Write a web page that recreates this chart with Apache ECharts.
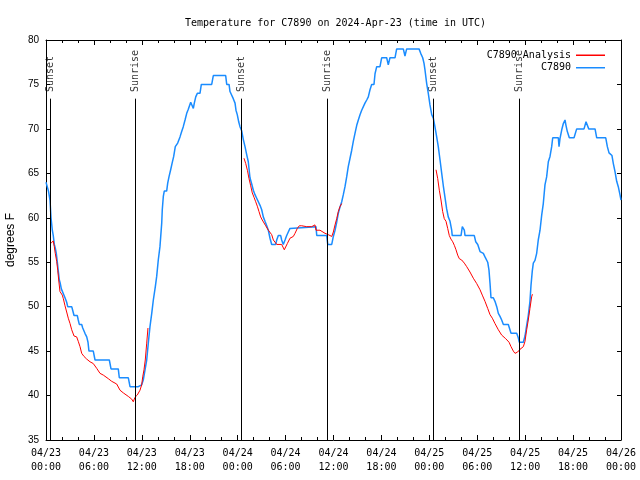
<!DOCTYPE html>
<html><head><meta charset="utf-8">
<script src="https://cdn.jsdelivr.net/npm/echarts/dist/echarts.min.js"></script>
<style>html,body{margin:0;padding:0;background:#fff}#c{width:640px;height:480px}</style>
</head><body><div id="c"></div>
<script>
const titleText = 'Temperature for C7890 on 2024-Apr-23 (time in UTC)';
const yAxisName = 'degrees F';
const xTickLabels = ['04/23\n00:00','04/23\n06:00','04/23\n12:00','04/23\n18:00',
  '04/24\n00:00','04/24\n06:00','04/24\n12:00','04/24\n18:00',
  '04/25\n00:00','04/25\n06:00','04/25\n12:00','04/25\n18:00','04/26\n00:00'];
// hours since 04/23 00:00 UTC
const sunEventHours = [0.5, 11.14, 24.42, 35.19, 48.46, 59.23];
const sunEventNames = ['Sunset','Sunrise','Sunset','Sunrise','Sunset','Sunrise'];
const eventLineTop = 73.4;
const eventLabelY = 74.15;

// C7890 observations [hour, degF]
const obsSeries = [
[0.0,64],[0.25,64],[0.31,63],[0.44,63],[0.5,62],[0.63,60],[0.79,58.6],[0.91,58],[1.04,57],[1.16,56.6],
[1.29,56],[1.42,55],[1.54,54],[1.67,53],[1.79,52.6],[1.92,52],[2.17,52],[2.38,51],[2.59,50.5],[2.72,50],
[3.22,50],[3.34,49.6],[3.51,49],[3.92,49],[4.04,48.5],[4.17,48],[4.47,48],[4.6,47.6],[4.88,47],[5.1,46.6],
[5.26,46],[5.38,45],[5.92,45],[6.14,44],[7.93,44],[8.14,43],[9.05,43],[9.18,42],[10.31,42],[10.52,41],
[11.56,41],[11.98,41.2],[12.18,41.75],[12.4,42.9],[12.61,44],[12.81,45.9],[13.02,47.75],[13.24,49.25],[13.44,50.75],[13.69,52.25],
[13.86,53.4],[14.06,55.25],[14.27,56.75],[14.49,59.4],[14.56,60.9],[14.69,62.4],[14.81,63],[15.11,63],[15.24,63.9],[15.4,64.6],
[15.61,65.4],[15.78,66.1],[15.99,66.9],[16.19,68],[16.49,68.4],[16.78,69.1],[16.99,69.7],[17.19,70.25],[17.41,71],[17.62,71.75],
[17.82,72.2],[18.12,73],[18.28,73],[18.45,72.3],[18.57,72.9],[18.75,73.6],[18.95,74],[19.28,74],[19.45,75],[20.75,75],
[20.95,76],[22.5,76],[22.63,75],[22.92,75],[23.04,74.2],[23.25,74],[23.45,73.4],[23.67,72.9],[23.79,72.1],[23.95,71.6],
[24.13,70.8],[24.29,70.25],[24.5,69.8],[24.71,68.8],[24.92,68],[25.13,67.1],[25.33,66.3],[25.54,64.5],[25.76,63.8],[25.96,63.1],
[26.17,62.6],[26.38,62.2],[26.58,62],[26.8,61.4],[27.01,60.9],[27.21,60.1],[27.42,59.6],[27.64,59.1],[27.84,58.6],[28.05,57.7],
[28.26,57],[28.76,57],[28.89,57.5],[29.09,58],[29.39,58],[29.51,57.5],[29.71,57],[29.93,57.5],[30.14,58],[30.34,58.4],
[30.55,58.8],[30.77,59],[33.81,59],[33.9,58],[35.15,58],[35.28,57],[35.78,57],[35.98,57.9],[36.19,58.6],[36.4,59.5],
[36.6,60.5],[36.81,61.2],[37.03,61.8],[37.23,62.6],[37.44,63.5],[37.65,64.6],[37.85,65.75],[38.07,66.7],[38.28,67.6],[38.48,68.6],
[38.69,69.5],[38.91,70.4],[39.11,71],[39.32,71.6],[39.53,72.1],[39.73,72.3],[39.94,72.9],[40.16,73.25],[40.36,73.6],[40.57,74.4],
[40.78,75],[41.07,75],[41.2,76.2],[41.41,77],[41.82,77],[42.03,78],[42.66,78],[42.86,77.2],[43.07,78],[43.7,78],
[43.91,79],[44.74,79],[44.95,78.2],[45.16,79],[46.71,79],[46.92,78.5],[47.17,78],[47.33,77.4],[47.46,76.6],[47.67,75.1],
[47.87,74],[48.08,72.7],[48.3,71.6],[48.5,71.2],[48.71,70.2],[48.92,69.1],[49.12,68],[49.34,66.5],[49.55,65],[49.75,63.6],
[49.96,62.3],[50.17,61],[50.37,60.1],[50.59,59.6],[50.8,58.6],[50.87,58],[51.97,58],[52.13,59],[52.38,58.6],[52.47,58],
[53.63,58],[53.81,57.3],[54.06,57],[54.35,56.2],[54.76,56],[54.97,55.6],[55.31,55],[55.47,54.1],[55.6,52.6],[55.72,51],
[56.01,51],[56.22,50.6],[56.44,50],[56.64,49.25],[56.85,48.9],[57.06,48.5],[57.27,48],[57.89,48],[58.23,47],[58.94,47],
[59.14,46.5],[59.27,46],[59.77,46],[59.98,46.7],[60.19,47.9],[60.39,49],[60.6,50.6],[60.73,52.4],[60.89,54],[61.02,54.9],
[61.23,55.2],[61.44,56],[61.64,57.5],[61.86,58.6],[62.07,60.3],[62.27,61.6],[62.48,63.7],[62.69,64.6],[62.9,66.3],[63.11,66.9],
[63.32,68],[63.45,69],[64.15,69],[64.24,68],[64.36,68.9],[64.58,69.9],[64.78,70.6],[64.99,71],[65.11,70.4],[65.28,69.7],
[65.53,69],[66.12,69],[66.45,70],[67.37,70],[67.62,70.8],[67.78,71],[67.96,70],[68.75,70],[68.96,69],[70.09,69],
[70.29,68],[70.5,67.3],[70.87,67],[71.04,66.1],[71.25,65.2],[71.46,64.1],[71.66,63.5],[71.87,62.6],[72,62]
];

// C7890 Analysis, three night-time segments [hour, degF]
const analysisNight1 = [
[0.59,57.1],[0.91,57.4],[1.04,56.75],[1.16,56],[1.34,55.1],[1.47,54.1],[1.59,53],[1.75,51.7],[2.04,51.3],[2.17,50.9],
[2.38,50.1],[2.59,49.4],[2.79,48.7],[3.01,48.1],[3.22,47.4],[3.51,46.7],[3.84,46.6],[4.04,46.1],[4.26,45.5],[4.47,44.75],
[4.76,44.4],[5.1,44.1],[5.51,43.8],[5.92,43.6],[6.35,43.06],[6.76,42.5],[7.18,42.3],[7.8,41.9],[8.23,41.6],[8.85,41.3],
[9.27,40.6],[9.68,40.3],[10.31,39.9],[10.73,39.6],[10.93,39.3],[11.14,39.8],[11.43,40.06],[11.77,40.6],[11.98,41.2],[12.11,42.1],
[12.27,42.9],[12.43,44],[12.61,45.9],[12.77,47.6]
];
const analysisNight2 = [
[24.79,66.7],[25.01,66.1],[25.23,65.3],[25.42,64.4],[25.63,63.6],[25.83,62.8],[26.05,62.3],[26.26,61.8],[26.46,61.3],[26.67,60.7],
[26.88,60.1],[27.08,59.75],[27.3,59.6],[27.51,59.1],[27.84,58.6],[28.26,58.1],[28.47,57.5],[28.89,57],[29.51,57],[29.84,56.4],
[30.22,57.1],[30.55,57.7],[30.97,57.9],[31.18,58.25],[31.47,58.8],[31.72,59.1],[32.02,59.1],[32.64,59],[32.85,58.8],[33.27,59],
[33.68,59.2],[33.81,58.6],[34.31,58.6],[34.94,58.25],[35.35,58.1],[35.78,57.9],[35.98,58.4],[36.19,59.2],[36.4,59.9],[36.6,60.7],
[36.81,61.25],[37.03,61.6]
];
const analysisNight3 = [
[48.84,65.4],[49.05,64.4],[49.25,63.1],[49.46,62],[49.67,60.7],[49.87,59.9],[50.09,59.6],[50.3,58.8],[50.5,58],[50.71,57.6],
[50.93,57.3],[51.13,56.9],[51.34,56.4],[51.55,55.8],[51.75,55.4],[52.05,55.25],[52.38,54.9],[52.68,54.5],[53.09,53.9],[53.51,53.2],
[53.93,52.6],[54.35,51.9],[54.63,51.3],[54.97,50.6],[55.31,49.8],[55.6,49.1],[55.89,48.7],[56.22,48.1],[56.64,47.4],[57.06,46.8],
[57.56,46.4],[57.98,46],[58.23,45.5],[58.52,45],[58.73,44.75],[59.06,44.9],[59.35,45.2],[59.77,45.5],[59.98,46.1],[60.19,47.4],
[60.39,48.5],[60.6,49.8],[60.81,51.1],[60.91,51.4]
];

const MONO = 'DejaVu Sans Mono';
const SANS = 'Liberation Sans';
const BLUE = '#1a8cff';
const RED = '#ff0000';

const chart = echarts.init(document.getElementById('c'), null, {renderer: 'canvas'});

const analysisBase = {
  type: 'line', name: 'C7890 Analysis', showSymbol: false, symbol: 'none',
  lineStyle: {color: RED, width: 1}, itemStyle: {color: RED}, z: 3, animation: false
};

const option = {
  animation: false,
  backgroundColor: '#fff',
  title: {
    text: titleText, left: 180, top: 13,
    textStyle: {fontFamily: MONO, fontSize: 10, fontWeight: 'normal', color: '#000'}
  },
  legend: {
    data: [{name: 'C7890 Analysis', icon: 'rect'}, {name: 'C7890', icon: 'rect'}],
    orient: 'vertical', right: 30, top: 44, align: 'right',
    itemWidth: 29, itemHeight: 1.5, itemGap: 0,
    textStyle: {fontFamily: MONO, fontSize: 10, color: '#000', lineHeight: 12.5},
    selectedMode: false
  },
  grid: {left: 46, right: 19, top: 40, bottom: 40, containLabel: false, outerBoundsMode: 'none'},
  xAxis: [{
    type: 'value', min: 0, max: 72, interval: 6, position: 'bottom',
    axisLine: {show: true, onZero: false, lineStyle: {color: '#000', width: 1}},
    axisTick: {show: true, inside: true, length: 5, lineStyle: {color: '#000'}},
    minorTick: {show: true, splitNumber: 3, length: 3, lineStyle: {color: '#000'}},
    splitLine: {show: false}, minorSplitLine: {show: false},
    axisLabel: {
      show: true, margin: 6, fontFamily: MONO, fontSize: 10, color: '#000', lineHeight: 14,
      showMinLabel: true, showMaxLabel: true, hideOverlap: false,
      formatter: function (v) { return xTickLabels[Math.round(v / 6)] || ''; }
    }
  }, {
    type: 'value', min: 0, max: 72, interval: 6, position: 'top',
    axisLine: {show: true, onZero: false, lineStyle: {color: '#000', width: 1}},
    axisTick: {show: true, inside: true, length: 5, lineStyle: {color: '#000'}},
    minorTick: {show: true, splitNumber: 3, length: 3, lineStyle: {color: '#000'}},
    splitLine: {show: false}, minorSplitLine: {show: false},
    axisLabel: {show: false}
  }],
  yAxis: [{
    type: 'value', min: 35, max: 80, interval: 5, position: 'left',
    name: yAxisName, nameLocation: 'middle', nameGap: 28, nameRotate: 90,
    nameTextStyle: {fontFamily: SANS, fontSize: 12, color: '#000'},
    axisLine: {show: true, onZero: false, lineStyle: {color: '#000', width: 1}},
    axisTick: {show: true, inside: true, length: 4, lineStyle: {color: '#000'}},
    splitLine: {show: false},
    axisLabel: {show: true, margin: 7, fontFamily: SANS, fontSize: 10, color: '#000'}
  }, {
    type: 'value', min: 35, max: 80, interval: 5, position: 'right',
    axisLine: {show: true, onZero: false, lineStyle: {color: '#000', width: 1}},
    axisTick: {show: true, inside: true, length: 4, lineStyle: {color: '#000'}},
    splitLine: {show: false},
    axisLabel: {show: false}
  }],
  series: [
    {
      type: 'scatter', name: 'events', symbolSize: 0, silent: true, z: 1,
      itemStyle: {color: 'transparent'},
      data: sunEventHours.map((h, i) => [h, eventLabelY, sunEventNames[i]]),
      label: {
        show: true, position: [0, 0], rotate: 90, align: 'left', verticalAlign: 'middle',
        fontFamily: MONO, fontSize: 10, color: '#000',
        formatter: p => p.data[2]
      },
      markLine: {
        silent: true, symbol: ['none', 'none'], animation: false,
        lineStyle: {color: '#000', width: 1, type: 'solid'},
        label: {show: false},
        data: sunEventHours.map(h => [{coord: [h, 35]}, {coord: [h, eventLineTop]}])
      }
    },
    {
      type: 'line', name: 'C7890', data: obsSeries, showSymbol: false, symbol: 'none',
      lineStyle: {color: BLUE, width: 1.5}, itemStyle: {color: BLUE}, z: 2
    },
    Object.assign({data: analysisNight1}, analysisBase),
    Object.assign({data: analysisNight2}, analysisBase),
    Object.assign({data: analysisNight3}, analysisBase)
  ]
};
chart.setOption(option);
</script>
</body></html>
